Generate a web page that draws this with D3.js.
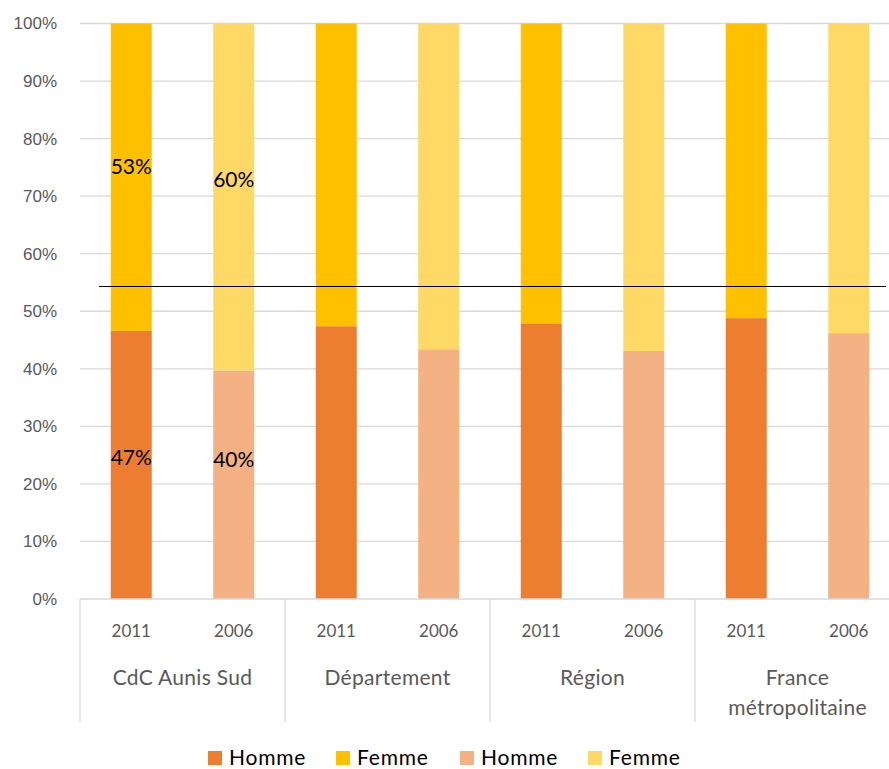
<!DOCTYPE html>
<html>
<head>
<meta charset="utf-8">
<script src="https://cdn.jsdelivr.net/npm/d3@7"></script>
<style>
  body { margin: 0; background: #fff; }
  svg { font-family: Lato, "Open Sans", sans-serif; }
</style>
</head>
<body>
<div id="chart"></div>
<script>
// data
const groups = ['CdC Aunis Sud', 'Département', 'Région', 'France métropolitaine'];
const years = ['2011', '2006'];
const homme2011 = [46.6, 47.4, 47.9, 48.8];
const homme2006 = [39.7, 43.4, 43.1, 46.2];
const refLine = 54.3;
const yTicks = [0, 10, 20, 30, 40, 50, 60, 70, 80, 90, 100];
const legendItems = ['Homme', 'Femme', 'Homme', 'Femme'];
// labels shown only on the first group
const barLabels = [
	{ group: 0, year: '2011', text: '53%', at: 75.2 },
	{ group: 0, year: '2006', text: '60%', at: 72.9 },
	{ group: 0, year: '2011', text: '47%', at: 24.6 },
	{ group: 0, year: '2006', text: '40%', at: 24.3 }
];

const colors = {
	'2011': { homme: '#ED7D31', femme: '#FFC000' },
	'2006': { homme: '#F4B183', femme: '#FFD966' }
};
const legendColors = ['#ED7D31', '#FFC000', '#F4B183', '#FFD966'];

const width = 889, height = 769;
const margins = { top: 23.5, left: 80, right: -11, bottom: 170 };

const svg = d3.select('#chart').append('svg')
	.attr('width', width)
	.attr('height', height);

const x0 = d3.scaleBand()
	.domain(groups)
	.range([margins.left, width - margins.right])
	.padding(0);
const x1 = d3.scaleBand()
	.domain(years)
	.range([0, x0.bandwidth()])
	.paddingInner(0.6)
	.paddingOuter(0.3);
const y = d3.scaleLinear()
	.domain([0, 100])
	.range([height - margins.bottom, margins.top]);

// gridlines
svg.append('g').attr('class', 'grid')
	.selectAll('line')
	.data(yTicks.slice(1))
	.join('line')
	.attr('x1', margins.left)
	.attr('x2', width)
	.attr('y1', d => y(d))
	.attr('y2', d => y(d))
	.attr('stroke', '#d9d9d9')
	.attr('stroke-width', 1.3);

// y axis labels
const yAxis = d3.axisLeft(y).tickValues(yTicks).tickFormat(d => d + '%').tickSize(0).tickPadding(23);
const gY = svg.append('g')
	.attr('transform', `translate(${margins.left},0)`)
	.call(yAxis);
gY.select('.domain').remove();
gY.selectAll('text')
	.attr('fill', '#595959')
	.style('font-size', '17px');

// bars
const rows = [];
groups.forEach((g, i) => {
	rows.push({ group: g, year: '2011', homme: homme2011[i] });
	rows.push({ group: g, year: '2006', homme: homme2006[i] });
});
const barG = svg.append('g').attr('class', 'bars');
rows.forEach(r => {
	const bx = x0(r.group) + x1(r.year);
	barG.append('rect')
		.attr('x', bx)
		.attr('width', x1.bandwidth())
		.attr('y', y(r.homme))
		.attr('height', y(0) - y(r.homme))
		.attr('fill', colors[r.year].homme);
	barG.append('rect')
		.attr('x', bx)
		.attr('width', x1.bandwidth())
		.attr('y', y(100))
		.attr('height', y(r.homme) - y(100))
		.attr('fill', colors[r.year].femme);
});

// reference line
svg.append('line')
	.attr('x1', 99)
	.attr('x2', 886)
	.attr('y1', y(refLine))
	.attr('y2', y(refLine))
	.attr('stroke', '#000')
	.attr('stroke-width', 1.2);

// data labels
svg.append('g').selectAll('text')
	.data(barLabels)
	.join('text')
	.attr('x', d => x0(groups[d.group]) + x1(d.year) + x1.bandwidth() / 2)
	.attr('y', d => y(d.at))
	.attr('dy', '0.35em')
	.attr('text-anchor', 'middle')
	.attr('fill', '#000')
	.style('font-size', '21px')
	.text(d => d.text);

// category axis
const axisY = y(0);
const sepBottom = 722;
const catG = svg.append('g').attr('class', 'cat-axis');
catG.append('line')
	.attr('x1', margins.left).attr('x2', width)
	.attr('y1', axisY).attr('y2', axisY)
	.attr('stroke', '#d9d9d9').attr('stroke-width', 1.3);
catG.selectAll('line.sep')
	.data(groups)
	.join('line')
	.attr('class', 'sep')
	.attr('x1', d => x0(d)).attr('x2', d => x0(d))
	.attr('y1', axisY).attr('y2', sepBottom)
	.attr('stroke', '#d9d9d9').attr('stroke-width', 1.3);
groups.forEach(g => {
	years.forEach(yr => {
		catG.append('text')
			.attr('x', x0(g) + x1(yr) + x1.bandwidth() / 2)
			.attr('y', 637)
			.attr('text-anchor', 'middle')
			.attr('fill', '#595959')
			.style('font-size', '17px')
			.text(yr);
	});
});
const groupLines = { 'France métropolitaine': ['France', 'métropolitaine'] };
groups.forEach(g => {
	const lines = groupLines[g] || [g];
	lines.forEach((t, k) => {
		catG.append('text')
			.attr('x', x0(g) + x0.bandwidth() / 2)
			.attr('y', 685 + k * 30)
			.attr('text-anchor', 'middle')
			.attr('fill', '#595959')
			.style('font-size', '21px')
			.style('letter-spacing', '0.3px')
			.text(t);
	});
});

// legend
const legend = svg.append('g').attr('class', 'legend');
const legendX = [208, 336, 460, 588];
legendItems.forEach((name, i) => {
	const lg = legend.append('g').attr('transform', `translate(${legendX[i]},751)`);
	lg.append('rect').attr('width', 14).attr('height', 14).attr('fill', legendColors[i]);
	lg.append('text')
		.attr('x', 21)
		.attr('y', 14)
		.attr('fill', '#000')
		.style('font-size', '21px')
		.style('letter-spacing', '0.8px')
		.text(name);
});
</script>
</body>
</html>
